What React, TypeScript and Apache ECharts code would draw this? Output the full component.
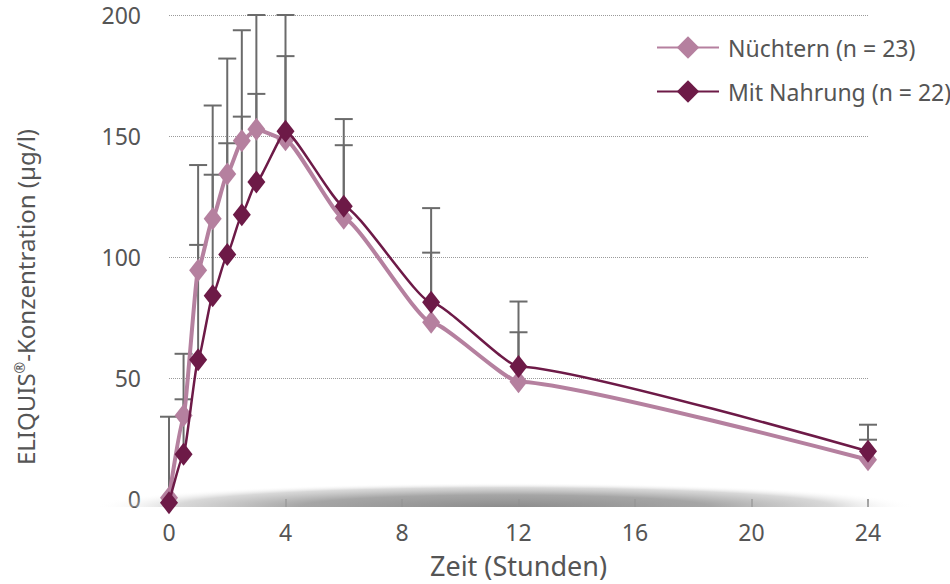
import React, { useEffect, useRef } from "react";
import * as echarts from "echarts";

const hours = [0, 0.5, 1, 1.5, 2, 2.5, 3, 4, 6, 9, 12, 24];
const fasting = [0.5, 34.5, 94.5, 115.8, 134.3, 148, 152.8, 148.5, 116, 73, 48.5, 16.2];
const fed = [-1.5, 18.5, 57.5, 84, 101, 117.5, 131, 152, 121, 81.3, 54.8, 19.7];
const fastingUpper = [34, 60, 138, 162.6, 182, 193.7, 200, 183, 146.2, 101.8, 68.9, 24.5];
const fedUpper: (number | null)[] = [null, 41.2, 105, 134, 147, 158, 167.4, 200, 157, 120.2, 81.6, 30.7];

const seriesNames = ["Nüchtern (n = 23)", "Mit Nahrung (n = 22)"];
const xTicks = { min: 0, max: 24, interval: 4 };
const yTicks = { min: 0, max: 200, interval: 50 };

const FONT = "Noto Sans";
const TEXT = "#555555";
const LIGHT = "#b5809f";
const DARK = "#6d1a47";

export default function App() {
  const ref = useRef<HTMLDivElement>(null);
  useEffect(() => {
    if (!ref.current) return;
    const chart = echarts.init(ref.current, undefined, { renderer: "svg" });

    const errData: number[][] = [];
    hours.forEach((h, i) => {
      errData.push([h, fasting[i], fastingUpper[i]]);
      const fu = fedUpper[i];
      if (fu !== null) errData.push([h, fed[i], fu]);
    });

    const option: any = {
      animation: false,
      backgroundColor: "#ffffff",
      textStyle: { fontFamily: FONT },
      grid: { left: 169, right: 82, top: 15, bottom: 82 },
      legend: {
        data: seriesNames,
        orient: "vertical",
        left: 651,
        top: 31,
        itemWidth: 62,
        itemHeight: 28,
        itemGap: 21,
        textStyle: { fontFamily: FONT, fontSize: 23, color: TEXT, padding: [0, 0, 0, 4] },
      },
      xAxis: {
        type: "value",
        min: xTicks.min,
        max: xTicks.max,
        interval: xTicks.interval,
        offset: 5,
        axisLine: { show: false },
        axisTick: { show: true, length: 8, lineStyle: { color: "#666", width: 1.5 } },
        axisLabel: { fontFamily: FONT, fontSize: 23, color: TEXT, margin: 16 },
        splitLine: { show: false },
        name: "Zeit (Stunden)",
        nameLocation: "middle",
        nameGap: 48,
        nameTextStyle: { fontFamily: FONT, fontSize: 27, color: TEXT },
      },
      yAxis: {
        type: "value",
        min: yTicks.min,
        max: yTicks.max,
        interval: yTicks.interval,
        axisLine: { show: false },
        axisTick: { show: false },
        axisLabel: { fontFamily: FONT, fontSize: 23, color: TEXT, margin: 28 },
        splitLine: {
          show: true,
          showMinLine: false,
          lineStyle: { color: "#9a9a9a", type: "dotted", width: 1 },
        },
      },
      graphic: [
        {
          type: "sector",
          x: 505,
          y: 507,
          scaleY: 24 / 410,
          silent: true,
          z: 1,
          shape: { cx: 0, cy: 0, r: 410, r0: 0, startAngle: Math.PI, endAngle: Math.PI * 2, clockwise: true },
          style: {
            fill: new echarts.graphic.RadialGradient(0, 0, 410, [
              { offset: 0, color: "rgba(140,140,140,1)" },
              { offset: 0.5, color: "rgba(158,158,158,0.92)" },
              { offset: 0.8, color: "rgba(190,190,190,0.6)" },
              { offset: 1, color: "rgba(255,255,255,0)" },
            ], true),
          },
        },
        {
          type: "text",
          x: 25,
          y: 297,
          rotation: Math.PI / 2,
          silent: true,
          style: {
            text: "{a|ELIQUIS}{s|®}{a|-Konzentration (µg/l)}",
            fontFamily: FONT,
            fontSize: 24,
            fill: TEXT,
            align: "center",
            verticalAlign: "middle",
            rich: {
              a: { fontFamily: FONT, fontSize: 24, color: TEXT, lineHeight: 30 },
              s: { fontFamily: FONT, fontSize: 14, color: TEXT, lineHeight: 30, verticalAlign: "top", padding: [2, 0, 0, 0] },
            },
          },
        },
      ],
      series: [
        {
          type: "custom",
          name: "err",
          clip: false,
          z: 2,
          silent: true,
          encode: { x: 0, y: [1, 2] },
          data: errData,
          renderItem: (params: any, api: any) => {
            const x = api.value(0);
            const p0 = api.coord([x, api.value(1)]);
            const p1 = api.coord([x, api.value(2)]);
            const hw = 9;
            return {
              type: "group",
              children: [
                { type: "line", shape: { x1: p0[0], y1: p0[1], x2: p1[0], y2: p1[1] }, style: { stroke: "#6b6b6b", lineWidth: 2 } },
                { type: "line", shape: { x1: p1[0] - hw, y1: p1[1], x2: p1[0] + hw, y2: p1[1] }, style: { stroke: "#6b6b6b", lineWidth: 2 } },
              ],
            };
          },
        },
        {
          name: seriesNames[0],
          type: "line",
          data: hours.map((h, i) => [h, fasting[i]]),
          symbol: "diamond",
          symbolSize: [18, 23],
          smooth: 0.15,
          smoothMonotone: "x",
          clip: false,
          z: 3,
          lineStyle: { color: LIGHT, width: 4 },
          itemStyle: { color: LIGHT },
        },
        {
          name: seriesNames[1],
          type: "line",
          data: hours.map((h, i) => [h, fed[i]]),
          symbol: "diamond",
          symbolSize: [18, 23],
          smooth: 0.15,
          smoothMonotone: "x",
          clip: false,
          z: 4,
          lineStyle: { color: DARK, width: 2.5 },
          itemStyle: { color: DARK },
        },
      ],
    };
    chart.setOption(option);
    return () => chart.dispose();
  }, []);
  return <div ref={ref} style={{ position: "fixed", left: 0, top: 0, width: 950, height: 584 }} />;
}
